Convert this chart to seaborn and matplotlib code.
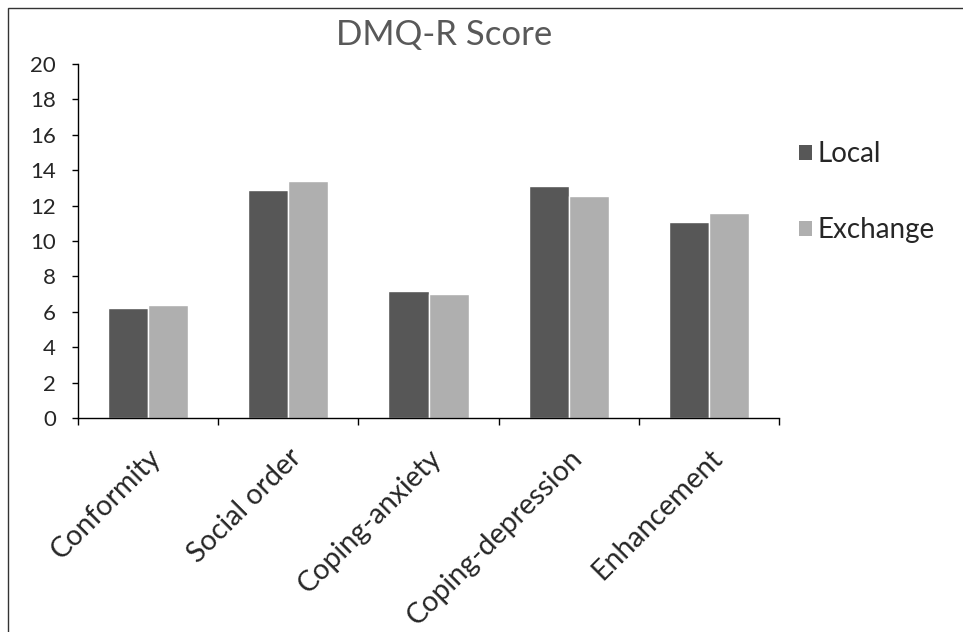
import matplotlib
matplotlib.use("Agg")
import matplotlib.pyplot as plt
import seaborn as sns
import pandas as pd
from matplotlib.patches import Rectangle, Patch

categories = ["Conformity", "Social order", "Coping-anxiety", "Coping-depression", "Enhancement"]
local_scores = [6.2, 12.9, 7.2, 13.1, 11.05]
exchange_scores = [6.4, 13.4, 7.0, 12.55, 11.6]
series_names = ["Local", "Exchange"]
y_ticks = [0, 2, 4, 6, 8, 10, 12, 14, 16, 18, 20]

df = pd.DataFrame({
    "Category": categories * 2,
    "Group": [series_names[0]] * len(categories) + [series_names[1]] * len(categories),
    "Score": local_scores + exchange_scores,
})

sns.set_theme(style="white")
plt.rcParams["font.family"] = ["Lato", "DejaVu Sans"]

colors = {"Local": "#575757", "Exchange": "#afafaf"}

fig = plt.figure(figsize=(9.63, 6.32), dpi=100)
ax = fig.add_axes([78 / 963, 1 - 418 / 632, (779 - 78) / 963, (418 - 64) / 632])

sns.barplot(data=df, x="Category", y="Score", hue="Group", order=categories,
            hue_order=series_names, palette=colors, width=0.572, gap=0,
            saturation=1, dodge=True, ax=ax, legend=False, errorbar=None)

ax.set_ylim(0, 20)
ax.set_xlim(-0.5, len(categories) - 0.5)
ax.set_yticks(y_ticks)
ax.set_yticklabels([str(t) for t in y_ticks])
ax.set_xlabel("")
ax.set_ylabel("")

for side in ["top", "right"]:
    ax.spines[side].set_visible(False)
for side in ["left", "bottom"]:
    ax.spines[side].set_color("black")
    ax.spines[side].set_linewidth(1.0)

# y ticks point outward, x ticks mark the category boundaries
ax.tick_params(axis="y", which="major", direction="out", length=4, width=1,
               color="black", labelsize=16, pad=12, left=True)
ax.set_xticks(range(len(categories)))
ax.set_xticks([i - 0.5 for i in range(len(categories) + 1)], minor=True)
ax.tick_params(axis="x", which="minor", direction="out", length=5, width=1,
               color="black", bottom=True)
ax.tick_params(axis="x", which="major", length=0, labelsize=20.5, pad=19)
ax.set_xticklabels(categories, rotation=45, ha="right", va="top",
                   rotation_mode="anchor")

fig.text(444 / 963, 1 - 35 / 632, "DMQ-R Score", ha="center", va="center",
         fontsize=25, color="#595959")

handles = [Patch(facecolor=colors[n], edgecolor="none") for n in series_names]
fig.legend(handles, series_names, loc="upper left",
           bbox_to_anchor=(799 / 963, 1 - 141 / 632), frameon=False,
           fontsize=20, handlelength=0.45, handleheight=0.45, handletextpad=0.2,
           labelspacing=1.8, borderaxespad=0, borderpad=0)

fig.patches.append(Rectangle((8 / 963, -0.1), 1.2, 1.1 - 8 / 632,
                             transform=fig.transFigure, fill=False,
                             edgecolor="#333333", linewidth=1.0))

fig.savefig("out.png", dpi=100)
